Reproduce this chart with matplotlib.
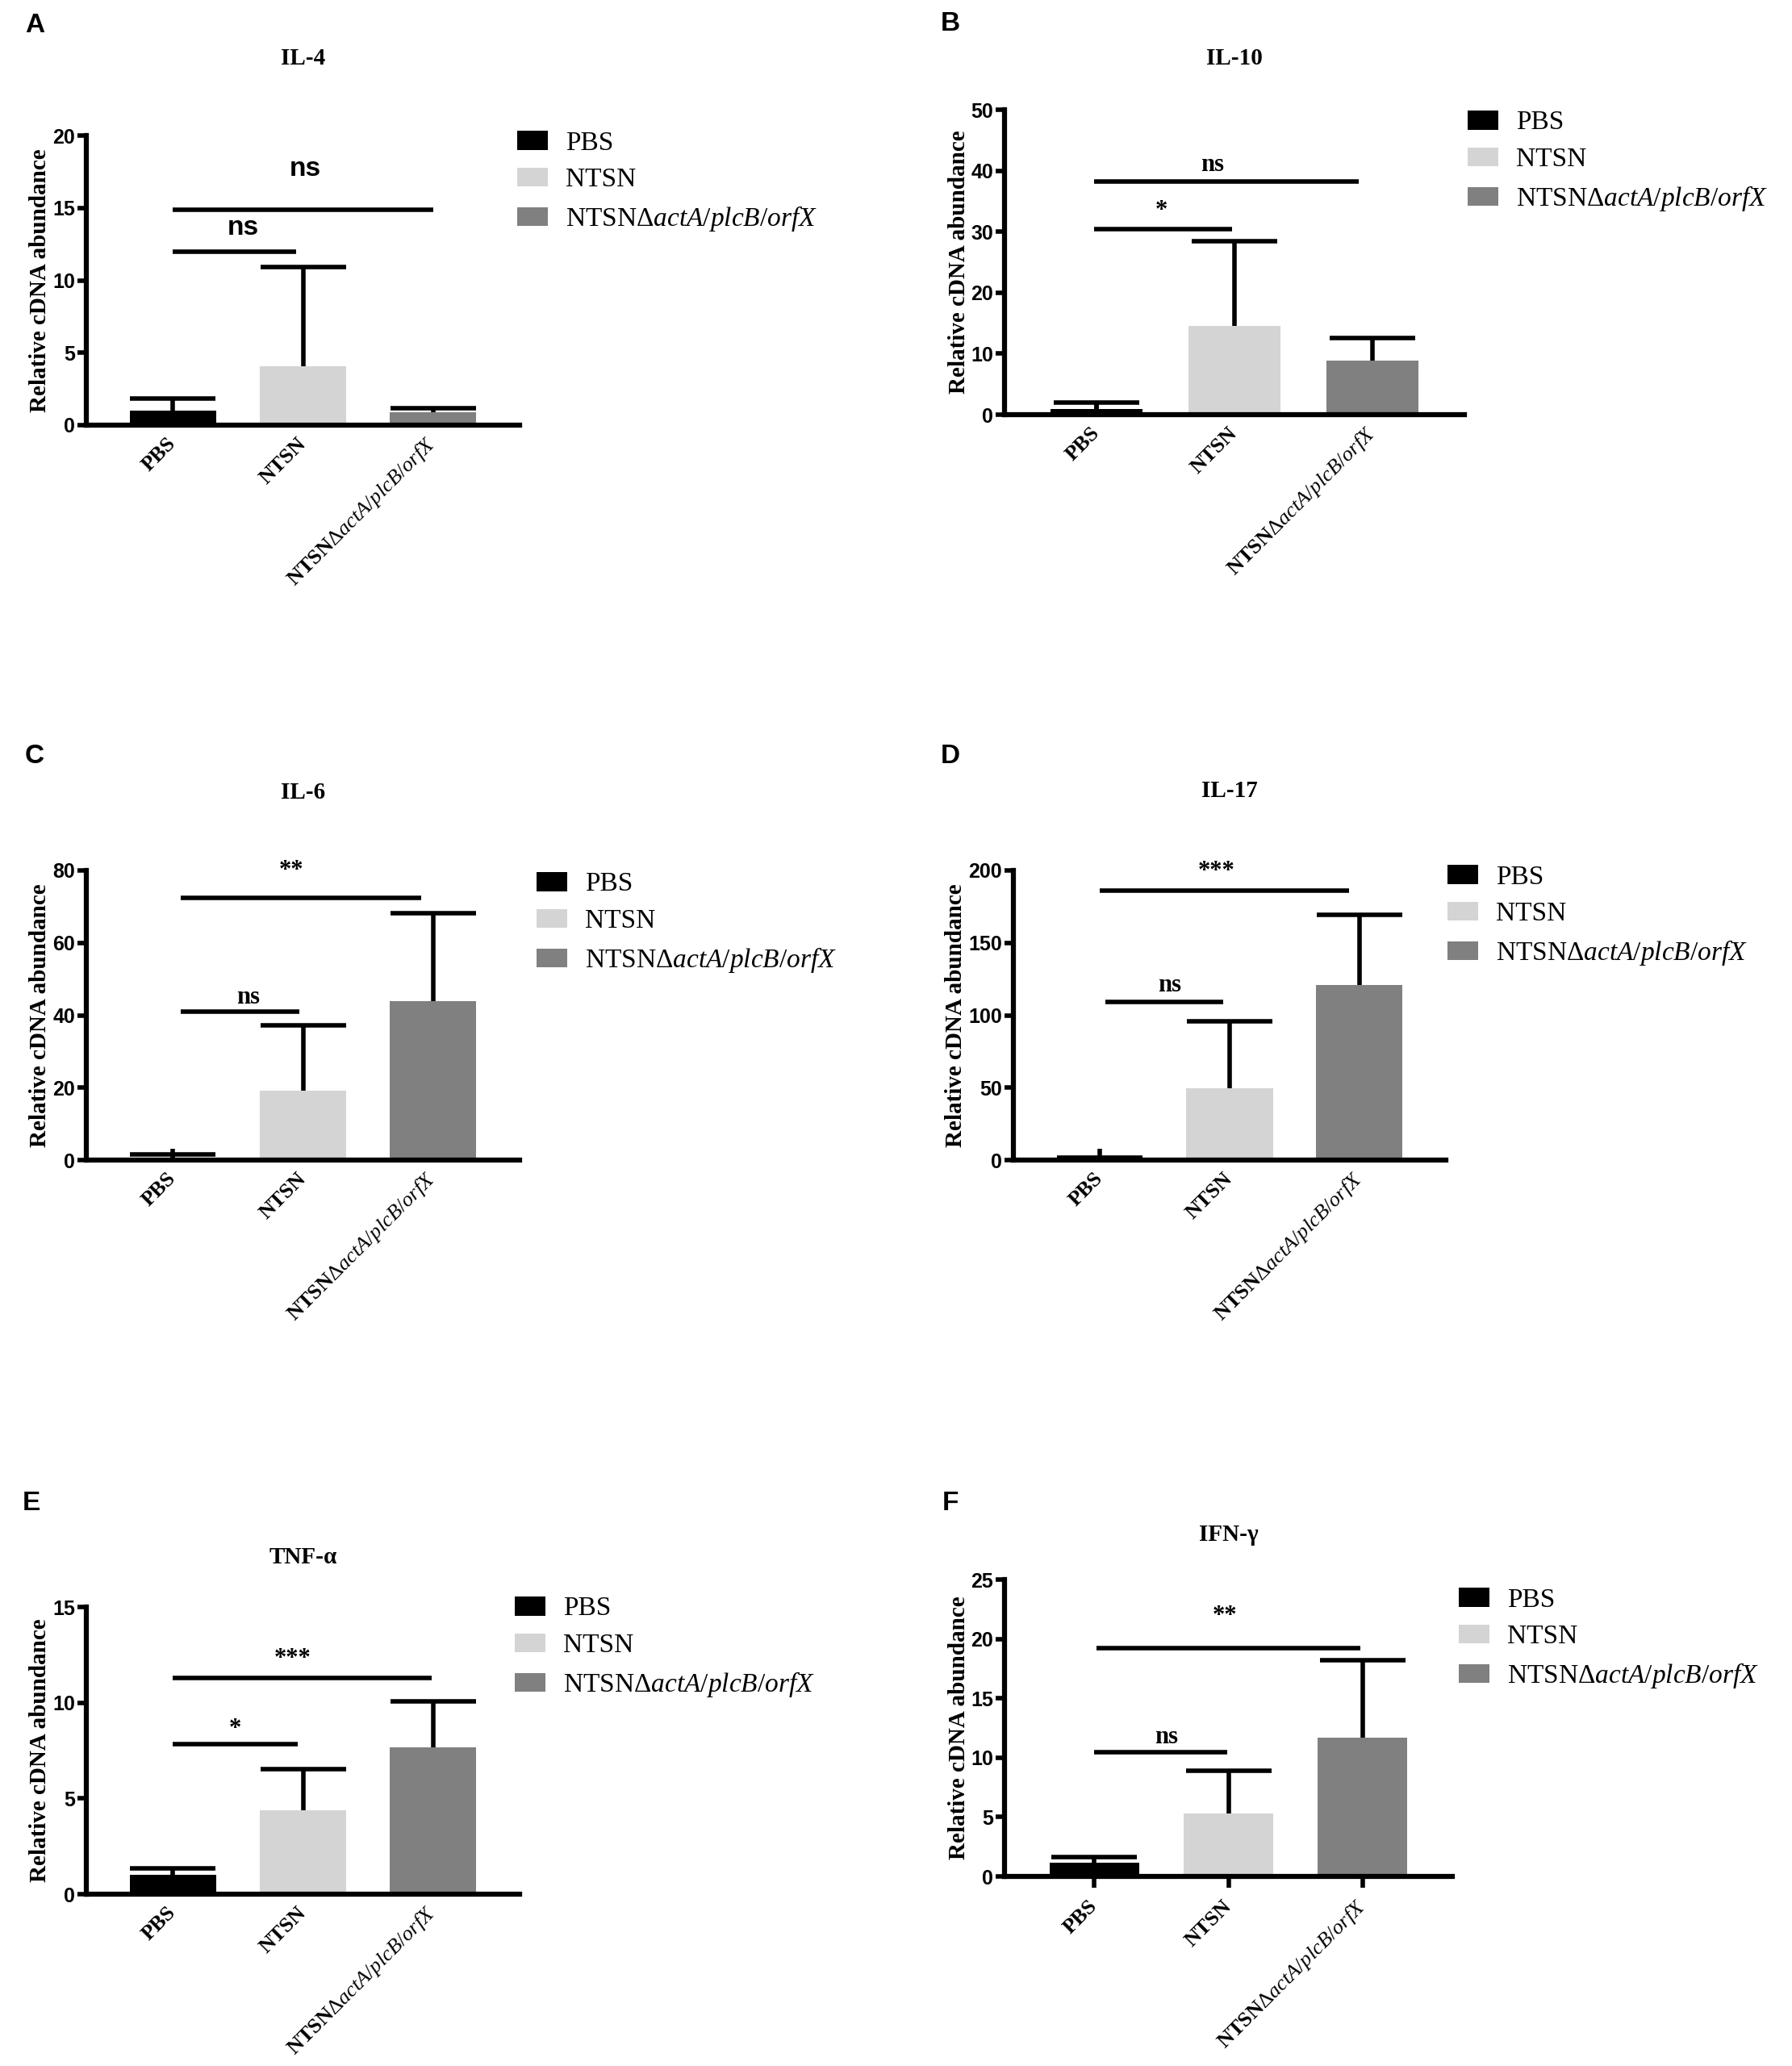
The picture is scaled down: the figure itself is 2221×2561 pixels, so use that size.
import matplotlib
matplotlib.use('Agg')
import matplotlib.pyplot as plt
from matplotlib.patches import Patch
import numpy as np

plt.rcParams['font.family'] = ['Liberation Serif', 'DejaVu Serif']
plt.rcParams['mathtext.fontset'] = 'custom'
plt.rcParams['mathtext.rm'] = 'Liberation Serif'
plt.rcParams['mathtext.it'] = 'Liberation Serif:italic'
plt.rcParams['mathtext.bf'] = 'Liberation Serif:bold'

# groups and colours
groups = ['PBS', 'NTSN', r'NTSN$\Delta\mathit{actA/plcB/orfX}$']
bar_colors = ['#000000', '#d4d4d4', '#808080']

# values (mean, upper SD)
il4_mean = [1.0, 4.04, 0.87]
il4_sd = [0.82, 6.86, 0.32]
il10_mean = [0.98, 14.6, 8.85]
il10_sd = [0.97, 13.8, 3.75]
il6_mean = [0.5, 19.2, 43.9]
il6_sd = [1.1, 18.0, 24.3]
il17_mean = [1.0, 49.6, 120.7]
il17_sd = [0.5, 46.2, 48.9]
tnf_mean = [1.03, 4.38, 7.67]
tnf_sd = [0.31, 2.14, 2.4]
ifn_mean = [1.16, 5.3, 11.69]
ifn_sd = [0.49, 3.57, 6.51]

# significance brackets: span (x from, x to), height, label, label x, label y
il4_sig_span = [(0.0, 0.95), (0.0, 2.0)]
il4_sig = [12.0, 14.9]
il4_sig_text = ['ns', 'ns']
il4_sig_tx = [0.54, 1.02]
il4_sig_ty = [13.6, 17.7]

il10_sig_span = [(-0.02, 0.98), (-0.02, 1.9)]
il10_sig = [30.4, 38.2]
il10_sig_text = ['*', 'ns']
il10_sig_tx = [0.47, 0.84]
il10_sig_ty = [33.4, 40.9]

il6_sig_span = [(0.06, 0.97), (0.06, 1.91)]
il6_sig = [41.0, 72.5]
il6_sig_text = ['ns', '**']
il6_sig_tx = [0.58, 0.91]
il6_sig_ty = [45.0, 80.0]

il17_sig_span = [(0.04, 0.95), (0.0, 1.92)]
il17_sig = [109.3, 185.8]
il17_sig_text = ['ns', '***']
il17_sig_tx = [0.54, 0.9]
il17_sig_ty = [120.7, 199.0]

tnf_sig_span = [(0.0, 0.96), (0.0, 1.99)]
tnf_sig = [7.85, 11.3]
tnf_sig_text = ['*', '***']
tnf_sig_tx = [0.48, 0.92]
tnf_sig_ty = [8.6, 12.3]

ifn_sig_span = [(0.0, 0.99), (0.02, 1.98)]
ifn_sig = [10.43, 19.2]
ifn_sig_text = ['ns', '**']
ifn_sig_tx = [0.54, 0.97]
ifn_sig_ty = [11.75, 21.9]

W, H = 2221, 2561
fig = plt.figure(figsize=(W / 100, H / 100), dpi=100)

# layout in pixels: axes left, right, top, bottom; title y; letter x,y; legend x, first row centre
panels = [
    dict(letter='A', title='IL-4', mean=il4_mean, sd=il4_sd, span=il4_sig_span, sig=il4_sig, st=il4_sig_text,
         stx=il4_sig_tx, sty=il4_sig_ty,
         ymax=20, step=5, box=(107, 644, 168, 527), ty=73, lxy=(43, 32), leg=(641, 178), ygap=61,
         tickdir='in', sigfont='Liberation Sans', sigsize=24),
    dict(letter='B', title='IL-10', mean=il10_mean, sd=il10_sd, span=il10_sig_span, sig=il10_sig, st=il10_sig_text,
         stx=il10_sig_tx, sty=il10_sig_ty,
         ymax=50, step=10, box=(1245, 1815, 136, 514), ty=73, lxy=(1178, 29), leg=(1819, 153), ygap=60,
         tickdir='in', sigfont='Liberation Serif', sigsize=22),
    dict(letter='C', title='IL-6', mean=il6_mean, sd=il6_sd, span=il6_sig_span, sig=il6_sig, st=il6_sig_text,
         stx=il6_sig_tx, sty=il6_sig_ty,
         ymax=80, step=20, box=(107, 644, 1079, 1438), ty=983, lxy=(43, 937), leg=(665, 1097), ygap=61,
         tickdir='in', sigfont='Liberation Serif', sigsize=22),
    dict(letter='D', title='IL-17', mean=il17_mean, sd=il17_sd, span=il17_sig_span, sig=il17_sig, st=il17_sig_text,
         stx=il17_sig_tx, sty=il17_sig_ty,
         ymax=200, step=50, box=(1256, 1792, 1079, 1438), ty=980, lxy=(1178, 937), leg=(1794, 1088), ygap=75,
         tickdir='in', sigfont='Liberation Serif', sigsize=22),
    dict(letter='E', title='TNF-α', mean=tnf_mean, sd=tnf_sd, span=tnf_sig_span, sig=tnf_sig, st=tnf_sig_text,
         stx=tnf_sig_tx, sty=tnf_sig_ty,
         ymax=15, step=5, box=(107, 644, 1992, 2348), ty=1931, lxy=(39, 1863), leg=(638, 1995), ygap=61,
         tickdir='in', sigfont='Liberation Serif', sigsize=22),
    dict(letter='F', title='IFN-γ', mean=ifn_mean, sd=ifn_sd, span=ifn_sig_span, sig=ifn_sig, st=ifn_sig_text,
         stx=ifn_sig_tx, sty=ifn_sig_ty,
         ymax=25, step=5, box=(1245, 1800, 1958, 2326), ty=1902, lxy=(1178, 1863), leg=(1808, 1984), ygap=60,
         tickdir='out', sigfont='Liberation Serif', sigsize=22),
]

x = np.arange(len(groups))
handles = [Patch(facecolor=c, edgecolor='none', label=g) for c, g in zip(bar_colors, groups)]

for p in panels:
    l, r, t, b = p['box']
    ax = fig.add_axes([l / W, 1 - b / H, (r - l) / W, (b - t) / H])
    ax.bar(x, p['mean'], width=0.667, color=bar_colors, zorder=2)
    eb = ax.errorbar(x, p['mean'], yerr=[np.zeros(3), p['sd']], fmt='none', ecolor='black',
                     elinewidth=4, capsize=38, capthick=4, zorder=3)
    # only the upper cap is drawn
    eb[1][0].set_visible(False)
    ax.set_xlim(-0.667, 2.667)
    ax.set_ylim(0, p['ymax'])
    ax.set_yticks(np.arange(0, p['ymax'] + 1, p['step']))
    for s in ['top', 'right']:
        ax.spines[s].set_visible(False)
    for s in ['left', 'bottom']:
        ax.spines[s].set_linewidth(4.5)
    ax.tick_params(axis='y', direction='out', length=8, width=4, labelsize=18, pad=2)
    ax.tick_params(axis='x', direction=p['tickdir'], length=10, width=4, pad=14)
    for lab in ax.get_yticklabels():
        lab.set_fontfamily('Liberation Sans')
        lab.set_fontweight('bold')
    ax.set_xticks(x)
    ax.set_xticklabels(groups, rotation=45, ha='right', va='center', rotation_mode='anchor',
                       fontsize=19, fontweight='bold')
    ax.set_ylabel('Relative cDNA abundance', fontsize=21, fontweight='bold')
    ax.yaxis.set_label_coords(-(p['ygap'] - 17) / (r - l), 0.5)

    # significance brackets
    for (x0, x1), yy, txt, txx, tyy in zip(p['span'], p['sig'], p['st'], p['stx'], p['sty']):
        ax.plot([x0, x1], [yy, yy], color='black', lw=4, solid_capstyle='butt', clip_on=False, zorder=4)
        ax.text(txx, tyy, txt, ha='center', va='center', fontsize=p['sigsize'],
                fontweight='bold', family=p['sigfont'], clip_on=False)

    ax.legend(handles=handles, loc='upper left', bbox_to_anchor=(p['leg'][0] / W, 1 - (p['leg'][1] - 16) / H),
              bbox_transform=fig.transFigure, frameon=False, fontsize=24, handlelength=1.15,
              handleheight=0.7, handletextpad=0.65, labelspacing=0.45, borderpad=0, borderaxespad=0)

    fig.text((l + r) / 2 / W, 1 - p['ty'] / H, p['title'], ha='center', va='center',
             fontsize=21, fontweight='bold')
    fig.text(p['lxy'][0] / W, 1 - p['lxy'][1] / H, p['letter'], ha='center', va='center',
             fontsize=24, fontweight='bold', family='Liberation Sans')

fig.savefig('out.png', dpi=100, facecolor='white')
